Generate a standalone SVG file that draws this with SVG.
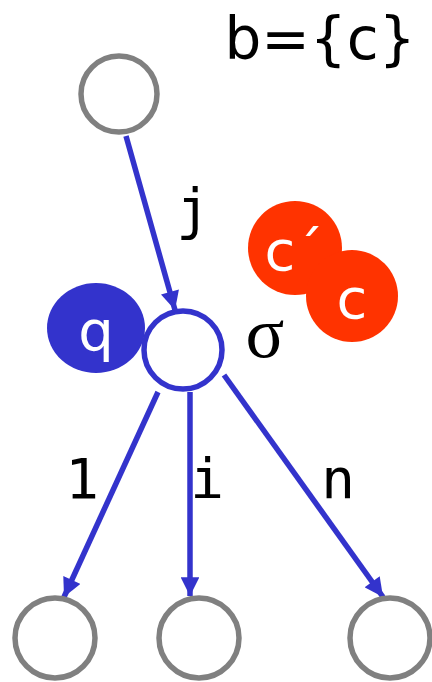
<svg xmlns="http://www.w3.org/2000/svg" width="432" height="682" viewBox="0 0 432 682">
<defs>
<marker id="ah" viewBox="0 0 10 10" refX="10" refY="5" markerWidth="3.6" markerHeight="3.4" orient="auto" markerUnits="strokeWidth">
<path d="M0,0 L10,5 L0,10 Z" fill="#3333cc"/>
</marker>
</defs>
<style>
.gray{fill:#fff;stroke:#808080;stroke-width:5.5}
.edge{stroke:#3333cc;stroke-width:5.5;fill:none;marker-end:url(#ah)}
text{font-family:"DejaVu Sans",sans-serif;font-size:56px}
.m{font-family:"DejaVu Sans Mono",monospace;fill:#000}
.s{font-family:"Liberation Serif",serif;font-size:72px;fill:#000}
.t{font-size:58px}
.w{fill:#fff}
.k{fill:#000}
</style>
<g id="connectors">
<line class="edge" x1="126" y1="136" x2="175" y2="310"/>
<line class="edge" x1="158" y1="392" x2="64" y2="597"/>
<line class="edge" x1="190" y1="392" x2="190" y2="596"/>
<line class="edge" x1="224" y1="375" x2="383" y2="597"/>
</g>
<g id="top"><circle class="gray" cx="119" cy="94" r="38"/></g>
<g id="q"><ellipse cx="96" cy="328" rx="49" ry="45" fill="#3333cc"/><text class="w" x="96" y="350" text-anchor="middle">q</text></g>
<g id="sigma"><circle cx="183" cy="350" r="39" fill="#fff" stroke="#3333cc" stroke-width="5.5"/></g>
<g id="cprime"><circle cx="295" cy="248" r="47" fill="#ff3300"/><text class="w" x="294" y="270" text-anchor="middle">c´</text></g>
<g id="c"><circle cx="352" cy="296" r="46" fill="#ff3300"/><text class="w" x="352" y="318" text-anchor="middle">c</text></g>
<g id="b1"><circle class="gray" cx="55" cy="638" r="40"/></g>
<g id="b2"><circle class="gray" cx="199" cy="638" r="40"/></g>
<g id="b3"><circle class="gray" cx="390" cy="638" r="40"/></g>
<g id="labels">
<text class="k t" x="320" y="59" text-anchor="middle">b={c}</text>
<text class="m" x="193" y="228" text-anchor="middle">j</text>
<text class="s" x="265" y="357" text-anchor="middle">σ</text>
<text class="m" x="82" y="498" text-anchor="middle">1</text>
<text class="m" x="207" y="498" text-anchor="middle">i</text>
<text class="m" x="338" y="498" text-anchor="middle">n</text>
</g>
</svg>
